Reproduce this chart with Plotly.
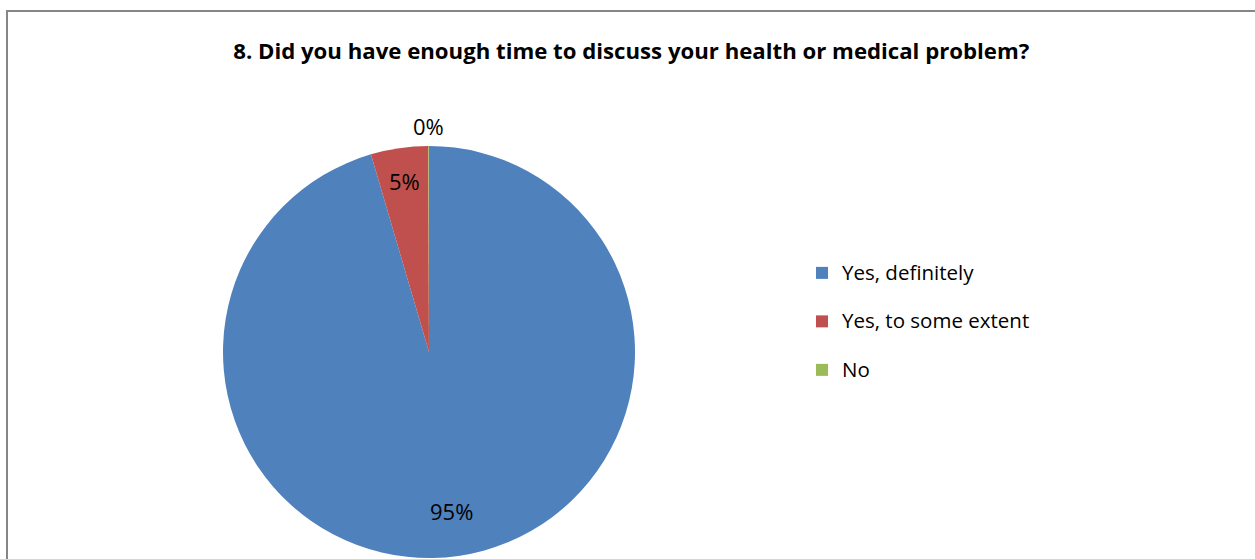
import math
import plotly.graph_objects as go

title_text = "8. Did you have enough time to discuss your health or medical problem?"
categories = ["Yes, definitely", "Yes, to some extent", "No"]
values = [95.45, 4.5, 0.05]
value_labels = ["95%", "5%", "0%"]
colors = ["#4F81BD", "#C0504D", "#9BBB59"]
label_radius = [0.78, 0.84, 1.095]  # fraction of pie radius where each label sits

W, H = 1255, 559
cx, cy, r = 429, 352, 206

fig = go.Figure()
fig.add_trace(go.Pie(
    labels=["<span style='font-size:20.5px'>" + c + "</span><br> " for c in categories],
    values=values,
    textinfo="none",
    marker=dict(colors=colors, line=dict(width=0)),
    sort=False,
    direction="clockwise",
    rotation=0,
    domain=dict(x=[(cx - r) / W, (cx + r) / W], y=[1 - (cy + r) / H, 1 - (cy - r) / H]),
    showlegend=True,
    hoverinfo="percent",
))

# data labels placed along each slice's mid-angle
total = sum(values)
annotations = []
cum = 0.0
for v, lab, rf in zip(values, value_labels, label_radius):
    mid = (cum + v / 2) / total * 2 * math.pi
    cum += v
    px = cx + rf * r * math.sin(mid)
    py = cy - rf * r * math.cos(mid)
    annotations.append(dict(x=px / W, y=1 - py / H, xref="paper", yref="paper",
                            text=lab, showarrow=False, xanchor="center", yanchor="middle",
                            font=dict(family="Open Sans", size=22, color="black")))

fig.update_layout(
    width=W, height=H,
    margin=dict(l=0, r=0, t=0, b=0),
    paper_bgcolor="white",
    plot_bgcolor="white",
    title=dict(text="<b>" + title_text + "</b>", x=0.503, xanchor="center",
               y=1 - 51 / H, yanchor="middle",
               font=dict(family="Open Sans", size=22.2, color="black")),
    legend=dict(x=802 / W, y=1 - 255 / H, xanchor="left", yanchor="top",
                valign="top", font=dict(family="Open Sans", size=17.5, color="black"),
                itemwidth=30, bgcolor="rgba(0,0,0,0)"),
    annotations=annotations,
    shapes=[dict(type="rect", xref="paper", yref="paper",
                 x0=7 / W, x1=1.2, y0=-0.2, y1=1 - 11 / H,
                 line=dict(color="#868686", width=2), fillcolor="rgba(0,0,0,0)",
                 layer="below")],
)

fig.write_html("out.html", config={"displayModeBar": False},
               post_script="document.body.style.margin='0px';")
